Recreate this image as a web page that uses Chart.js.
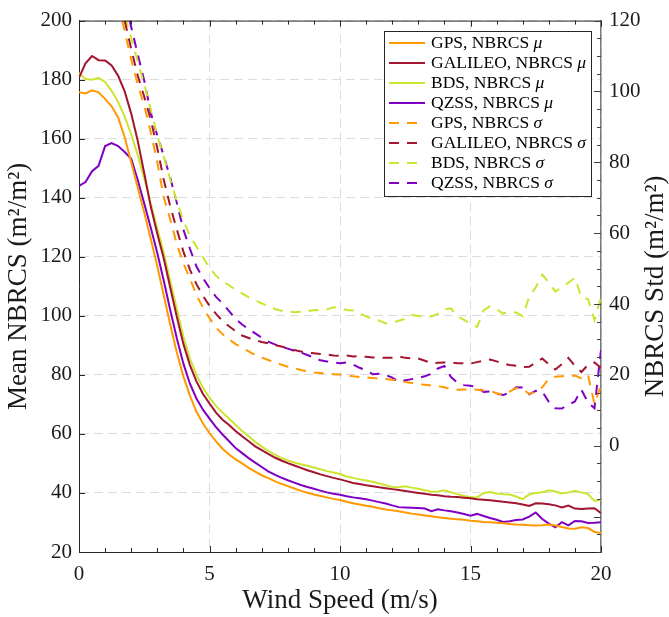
<!DOCTYPE html>
<html>
<head>
<meta charset="utf-8">
<script src="https://cdn.jsdelivr.net/npm/chart.js@4.4.1/dist/chart.umd.min.js"></script>
<style>
  html, body { margin: 0; padding: 0; background: #fff; }
  #wrap { width: 669px; height: 617px; }
</style>
</head>
<body>
<div id="wrap"><canvas id="nbrcsChart" width="669" height="617"></canvas></div>
<script>
// wind speed bins (m/s)
const windSpeed = [
  0, 0.25, 0.5, 0.75, 1, 1.25, 1.5, 1.75, 2, 2.25,
  2.5, 2.75, 3, 3.25, 3.5, 3.75, 4, 4.25, 4.5, 4.75,
  5, 5.25, 5.5, 5.75, 6, 6.25, 6.5, 6.75, 7, 7.25,
  7.5, 7.75, 8, 8.25, 8.5, 8.75, 9, 9.25, 9.5, 9.75,
  10, 10.25, 10.5, 10.75, 11, 11.25, 11.5, 11.75, 12, 12.25,
  12.5, 12.75, 13, 13.25, 13.5, 13.75, 14, 14.25, 14.5, 14.75,
  15, 15.25, 15.5, 15.75, 16, 16.25, 16.5, 16.75, 17, 17.25,
  17.5, 17.75, 18, 18.25, 18.5, 18.75, 19, 19.25, 19.5, 19.75,
  20
];

// mean NBRCS (left axis)
const gpsMean = [
  175.7, 175.3, 176.4, 175.7, 173.5, 171.0, 167.2, 160.5, 152.0, 143.5,
  135.0, 126.0, 116.8, 106.8, 96.9, 87.5, 79.5, 73.0, 67.5, 63.5,
  60.3, 57.5, 55.0, 53.0, 51.4, 50.0, 48.5, 47.2, 46.0, 45.0,
  44.0, 43.1, 42.3, 41.5, 40.7, 40.1, 39.5, 39.0, 38.5, 38.0,
  37.6, 37.0, 36.5, 36.1, 35.7, 35.3, 34.8, 34.4, 34.1, 33.8,
  33.4, 33.0, 32.7, 32.4, 32.1, 31.8, 31.5, 31.3, 31.1, 30.9,
  30.6, 30.4, 30.2, 30.1, 29.9, 29.7, 29.5, 29.3, 29.2, 29.1,
  29.0, 29.1, 29.3, 29.0, 28.5, 28.0, 27.9, 28.4, 28.1, 26.8,
  26.4
];
const galileoMean = [
  180.7, 185.5, 188.0, 186.6, 186.5, 184.8, 181.3, 176.0, 168.5, 159.3,
  148.3, 137.0, 127.8, 119.3, 109.4, 99.6, 90.5, 83.3, 77.8, 73.5,
  70.3, 67.2, 64.8, 63.0, 61.0, 59.2, 57.5, 55.8, 54.5, 53.2,
  52.0, 51.0, 50.1, 49.3, 48.5, 47.7, 47.0, 46.3, 45.7, 45.1,
  44.6, 44.0, 43.4, 43.0, 42.6, 42.3, 41.9, 41.6, 41.3, 41.0,
  40.7, 40.3, 40.0, 39.7, 39.4, 39.2, 38.9, 38.7, 38.6, 38.4,
  38.2, 37.9, 37.7, 37.5, 37.3, 37.0, 36.8, 36.5, 36.1, 35.6,
  36.5, 36.4, 36.2, 35.8, 35.1, 35.7, 34.7, 34.6, 34.7, 34.8,
  33.1
];
const bdsMean = [
  182.3, 180.2, 180.0, 180.6, 179.2, 176.2, 172.4, 167.5, 161.5, 154.5,
  146.5, 138.0, 129.6, 121.3, 111.7, 102.2, 93.0, 85.5, 80.0, 75.6,
  72.3, 69.5, 67.2, 65.2, 63.0, 61.0, 59.2, 57.3, 55.7, 54.3,
  53.0, 51.9, 51.0, 50.3, 49.7, 49.2, 48.6, 48.0, 47.4, 46.9,
  46.4, 45.6, 45.1, 44.6, 44.2, 43.8, 43.2, 42.6, 42.0, 41.9,
  42.3, 41.8, 41.4, 40.9, 40.4, 40.5, 40.9, 40.2, 39.6, 39.0,
  38.6, 38.4, 40.0, 40.3, 39.8, 39.6, 39.5, 38.8, 37.9, 39.5,
  40.0, 40.2, 40.9, 40.5, 39.8, 40.2, 40.7, 40.2, 39.6, 37.3,
  37.7
];
const qzssMean = [
  144.0, 145.3, 149.0, 150.8, 157.5, 158.5, 157.5, 155.5, 153.2, 146.0,
  138.0, 129.8, 121.3, 111.8, 101.8, 92.3, 83.8, 77.0, 72.0, 68.2,
  65.2, 62.3, 59.8, 57.5, 55.2, 53.5, 51.8, 50.3, 48.8, 47.3,
  46.2, 45.2, 44.3, 43.5, 42.7, 42.0, 41.4, 40.8, 40.2, 39.7,
  39.4, 38.9, 38.5, 38.2, 37.9, 37.4, 36.9, 36.4, 35.8, 35.2,
  35.1, 35.0, 34.9, 34.7, 33.8, 34.5, 34.1, 33.8, 33.4, 32.9,
  32.3, 32.9, 32.2, 31.5, 30.9, 30.2, 30.4, 30.8, 31.0, 32.0,
  33.4, 31.2, 29.6, 28.4, 30.1, 29.0, 30.5, 30.4, 29.8, 29.9,
  30.1
];

// NBRCS standard deviation (right axis)
const gpsStd = [
  190, 178, 166, 155, 145, 135, 125, 117, 109, 102,
  96.0, 88.5, 80.0, 70.0, 63.8, 56.8, 51.5, 47.2, 42.5, 39.0,
  36.0, 33.3, 31.5, 30.0, 28.7, 27.6, 26.6, 25.6, 24.9, 24.2,
  23.5, 22.9, 22.3, 21.9, 21.4, 21.0, 20.7, 20.5, 20.3, 20.2,
  20.1, 19.9, 19.6, 19.4, 19.3, 19.1, 18.9, 18.8, 18.6, 18.3,
  18.0, 17.7, 17.4, 17.2, 17.0, 16.8, 16.5, 15.9, 15.8, 15.9,
  15.9, 15.8, 15.6, 15.5, 14.8, 14.4, 15.3, 16.3, 16.0, 14.6,
  15.2, 16.5, 18.9, 19.5, 19.6, 19.7, 19.8, 19.0, 20.0, 11.8,
  17.0
];
const galileoStd = [
  195, 183, 171, 160, 149, 138, 128, 120, 112, 104.5,
  98.5, 92.0, 84.0, 75.0, 67.5, 61.0, 54.8, 49.7, 45.6, 42.3,
  39.5, 37.2, 35.2, 33.7, 32.3, 31.1, 30.4, 29.8, 29.3, 28.9,
  28.4, 28.0, 27.5, 27.0, 26.6, 26.3, 26.1, 25.9, 25.7, 25.5,
  25.4, 25.5, 25.2, 25.3, 25.1, 24.9, 24.9, 24.8, 24.8, 25.2,
  24.8, 24.7, 24.6, 24.0, 23.3, 23.4, 23.5, 23.5, 23.3, 23.3,
  23.2, 23.6, 24.0, 24.3, 23.8, 23.2, 22.8, 22.6, 22.2, 22.3,
  23.5, 24.6, 23.0, 21.5, 23.0, 24.8, 22.5, 20.8, 22.8, 23.5,
  22.0
];
const bdsStd = [
  196, 184, 172, 161, 150, 139, 128.5, 121.5, 115, 108.5,
  102.0, 95.0, 87.5, 81.5, 75.0, 69.0, 63.5, 59.2, 56.2, 53.2,
  50.2, 48.0, 46.3, 45.3, 44.0, 43.0, 41.9, 41.0, 40.2, 39.4,
  38.6, 38.1, 37.9, 37.7, 37.8, 38.0, 38.3, 38.2, 38.5, 39.1,
  38.8, 38.3, 38.2, 37.3, 36.5, 35.8, 35.3, 34.5, 34.8, 35.3,
  35.8, 36.9, 36.6, 36.5, 36.5, 37.2, 38.5, 38.8, 36.5, 35.5,
  34.5, 33.5, 38.2, 39.4, 38.5, 37.3, 37.8, 37.6, 36.6, 42.0,
  44.7, 48.3, 46.0, 43.5, 44.7, 46.0, 47.4, 41.8, 41.4, 35.5,
  42.0
];
const qzssStd = [
  200, 188, 176, 164, 153, 143, 135, 126, 118.2, 110.5,
  103.0, 94.0, 87.5, 81.8, 75.5, 68.5, 61.0, 55.6, 50.6, 47.3,
  44.5, 42.0, 40.2, 38.0, 35.8, 34.2, 32.9, 31.7, 30.5, 29.4,
  28.6, 28.0, 27.4, 26.8, 26.3, 25.6, 24.9, 24.1, 23.8, 23.5,
  23.3, 23.5, 22.9, 22.0, 21.3, 20.2, 20.3, 20.0, 19.2, 18.0,
  18.5, 18.8, 19.1, 19.6, 20.3, 21.8, 22.5, 19.4, 17.8, 17.1,
  16.9, 16.6, 15.2, 15.3, 14.7, 14.3, 15.0, 16.5, 16.4, 14.5,
  15.5, 15.3, 12.4, 10.6, 10.5, 11.5, 12.5, 15.8, 12.2, 10.6,
  27.0
];

const xTicks = [0, 5, 10, 15, 20];
const leftTicks = [20, 40, 60, 80, 100, 120, 140, 160, 180, 200];
const rightTicks = [0, 20, 40, 60, 80, 100, 120];

const systems = ['GPS', 'GALILEO', 'BDS', 'QZSS'];
const colors = ['#ff9900', '#a2142f', '#cce42e', '#7f00c4'];
const meanSeries = [gpsMean, galileoMean, bdsMean, qzssMean];
const stdSeries = [gpsStd, galileoStd, bdsStd, qzssStd];

const FONT = "'Liberation Serif', 'DejaVu Serif', serif";
const DASH = [10, 8];

function toPoints(values) {
    return windSpeed.map((w, i) => ({ x: w, y: values[i] }));
}

const datasets = [];
systems.forEach((name, i) => {
    datasets.push({
        label: `${name}, NBRCS μ`,
        data: toPoints(meanSeries[i]),
        borderColor: colors[i],
        borderWidth: 2,
        yAxisID: 'y'
    });
});
systems.forEach((name, i) => {
    datasets.push({
        label: `${name}, NBRCS σ`,
        data: toPoints(stdSeries[i]),
        borderColor: colors[i],
        borderWidth: 2,
        borderDash: DASH,
        yAxisID: 'y2'
    });
});

// inward ticks, top edge of the box, right axis title
const axisBox = {
    id: 'axisBox',
    afterDraw(chart) {
        const { ctx, chartArea: a, scales } = chart;
        ctx.save();
        ctx.lineWidth = 1;
        ctx.strokeStyle = '#262626';
        const seg = (x1, y1, x2, y2) => {
            ctx.beginPath();
            ctx.moveTo(x1, y1);
            ctx.lineTo(x2, y2);
            ctx.stroke();
        };
        seg(a.left, a.top + 0.5, a.right, a.top + 0.5);
        for (let v = 0; v <= 20; v++) {
            const px = Math.round(scales.x.getPixelForValue(v)) + 0.5;
            const len = v % 5 === 0 ? 6 : 4;
            seg(px, a.bottom, px, a.bottom - len);
            seg(px, a.top, px, a.top + len);
        }
        leftTicks.forEach(v => {
            const py = Math.round(scales.y.getPixelForValue(v)) + 0.5;
            seg(a.left, py, a.left + 6, py);
        });
        ctx.strokeStyle = '#404040';
        for (let v = -30; v <= 120; v += 5) {
            const py = Math.round(scales.y2.getPixelForValue(v)) + 0.5;
            const len = v % 20 === 0 ? 7 : 4;
            seg(a.right, py, a.right - len, py);
        }
        // right title, read bottom to top like the left one
        ctx.fillStyle = '#1a1a1a';
        ctx.font = `27px ${FONT}`;
        ctx.textAlign = 'center';
        ctx.textBaseline = 'middle';
        ctx.translate(656, (a.top + a.bottom) / 2);
        ctx.rotate(-Math.PI / 2);
        ctx.fillText('NBRCS Std (m²/m²)', 0, 0);
        ctx.restore();
    }
};

// legend drawn inside the plot, top right
const insideLegend = {
    id: 'insideLegend',
    afterDraw(chart) {
        const { ctx, chartArea } = chart;
        const boxW = 207, boxH = 165;
        const x0 = Math.round(chartArea.right - 10 - boxW);
        const y0 = Math.round(chartArea.top + 10);
        ctx.save();
        ctx.fillStyle = '#fff';
        ctx.fillRect(x0, y0, boxW, boxH);
        ctx.strokeStyle = '#262626';
        ctx.lineWidth = 1;
        ctx.strokeRect(x0 + 0.5, y0 + 0.5, boxW, boxH);
        chart.data.datasets.forEach((ds, i) => {
            const cy = y0 + 12 + i * 20;
            ctx.strokeStyle = ds.borderColor;
            ctx.lineWidth = 2;
            ctx.setLineDash(ds.borderDash || []);
            ctx.beginPath();
            ctx.moveTo(x0 + 5, cy);
            ctx.lineTo(x0 + 41, cy);
            ctx.stroke();
            ctx.setLineDash([]);
            ctx.fillStyle = '#000';
            ctx.textAlign = 'left';
            ctx.textBaseline = 'middle';
            const name = ds.label.slice(0, -1);
            const sym = ds.label.slice(-1);
            ctx.font = `17.5px ${FONT}`;
            ctx.fillText(name, x0 + 47, cy);
            const w = ctx.measureText(name).width;
            ctx.font = `italic 17.5px ${FONT}`;
            ctx.fillText(sym, x0 + 47 + w, cy);
        });
        ctx.restore();
    }
};

const gridStyle = { color: '#dcdcdc', lineWidth: 1, drawTicks: false };
const tickFont = { family: FONT, size: 21 };
const titleFont = { family: FONT, size: 27 };

new Chart(document.getElementById('nbrcsChart').getContext('2d'), {
    type: 'line',
    data: { datasets },
    options: {
        responsive: false,
        animation: false,
        devicePixelRatio: 1,
        layout: { padding: { top: 12, left: 0, right: 0, bottom: 0 } },
        elements: { point: { radius: 0 }, line: { tension: 0 } },
        plugins: { legend: { display: false }, tooltip: { enabled: false } },
        scales: {
            x: {
                type: 'linear',
                min: 0,
                max: 20,
                afterBuildTicks: s => { s.ticks = xTicks.map(v => ({ value: v })); },
                afterFit: s => { s.height = 65; },
                grid: gridStyle,
                border: { display: true, color: '#262626', width: 1, dash: [9, 5] },
                ticks: { padding: 10, color: '#1a1a1a', font: tickFont, maxRotation: 0 },
                title: { display: true, text: 'Wind Speed (m/s)', color: '#1a1a1a', font: titleFont, padding: { top: 0, bottom: 0 } }
            },
            y: {
                type: 'linear',
                position: 'left',
                min: 20,
                max: 200,
                afterBuildTicks: s => { s.ticks = leftTicks.map(v => ({ value: v })); },
                afterFit: s => { s.width = 79; },
                grid: gridStyle,
                border: { display: true, color: '#262626', width: 1, dash: [9, 5] },
                ticks: { padding: 7, color: '#1a1a1a', font: tickFont },
                title: { display: true, text: 'Mean NBRCS (m²/m²)', color: '#1a1a1a', font: titleFont, padding: { top: 3, bottom: 0 } }
            },
            y2: {
                type: 'linear',
                position: 'right',
                min: -30,
                max: 120,
                afterBuildTicks: s => { s.ticks = rightTicks.map(v => ({ value: v })); },
                afterFit: s => { s.width = 68; },
                grid: { display: false, drawTicks: false },
                border: { display: true, color: '#7a7a7a', width: 1.5 },
                ticks: { padding: 8, color: '#1a1a1a', font: tickFont }
            }
        }
    },
    plugins: [axisBox, insideLegend]
});
</script>
</body>
</html>
